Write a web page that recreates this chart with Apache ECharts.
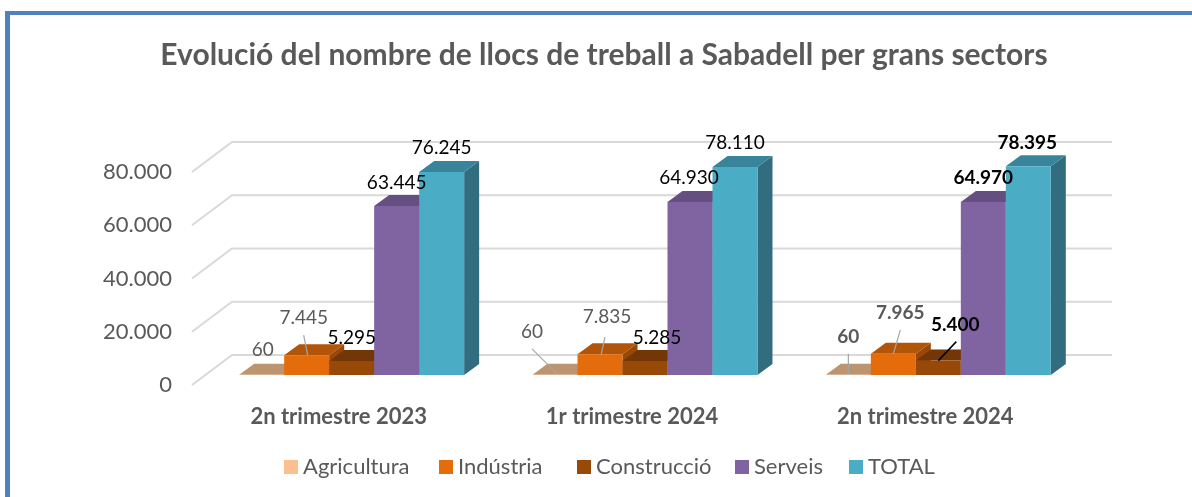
<!DOCTYPE html>
<html>
<head>
<meta charset="utf-8">
<style>
  html, body { margin: 0; padding: 0; background: #fff; }
  #main { width: 1192px; height: 497px; }
</style>
<script src="https://cdn.jsdelivr.net/npm/echarts@6/dist/echarts.min.js"></script>
</head>
<body>
<div id="main"></div>
<script>
var categories = ['2n trimestre 2023', '1r trimestre 2024', '2n trimestre 2024'];
var sectors = ['Agricultura', 'Indústria', 'Construcció', 'Serveis', 'TOTAL'];
var agricultura = [60, 60, 60];
var industria = [7445, 7835, 7965];
var construccio = [5295, 5285, 5400];
var serveis = [63445, 64930, 64970];
var total = [76245, 78110, 78395];
var yTicks = [0, 20000, 40000, 60000, 80000];

var sectorValues = [agricultura, industria, construccio, serveis, total];

// colours per sector: front, top, side
var palette = [
    ['#FAC090', '#BC9570', '#A88560'],
    ['#E46C0A', '#B35508', '#994807'],
    ['#984807', '#733606', '#5F2D05'],
    ['#8064A2', '#654F80', '#54426B'],
    ['#4BACC6', '#38859B', '#316D7E']
];

var FONT = 'Lato, "Noto Sans", sans-serif';
var GREY = '#595959';
var BLACK = '#000000';

// fake 3D: wall depth and bar depth in pixels
var WALL_DX = 40, WALL_DY = -30;
var BAR_SHIFT_X = 13, BAR_SHIFT_Y = -10;
var BAR_DX = 15, BAR_DY = -11;
var BARS_PER_BAND = 6.52;

// legend entries are not evenly spaced in the original
var legendLeft = [279, 434, 572, 730, 844];

// labels were moved by hand in the original: [sector][category]
var labelStyle = [
    [{dx: 1, dy: -25, c: GREY}, {dx: -23, dy: -43, c: GREY, line: [-23, -26, 2, -1]}, {dx: 0, dy: -38, c: GREY, b: 1, line: [0, -21, 0, 0]}],
    [{dx: -3, dy: -37, c: GREY, line: [-3, -20, 1, 0]}, {dx: 7, dy: -37, c: GREY, line: [5, -17, 1, 1]}, {dx: 7, dy: -41, c: GREY, b: 1, line: [7, -24, 0, 0]}],
    [{dx: 0, dy: -23, c: BLACK}, {dx: 12, dy: -23, c: BLACK}, {dx: 17, dy: -36, c: BLACK, b: 1, line: [18, -19, 0, 0], lc: BLACK}],
    [{dx: 0, dy: -23, c: BLACK}, {dx: -1, dy: -24, c: BLACK}, {dx: 0, dy: -24, c: BLACK, b: 1}],
    [{dx: 0, dy: -24, c: BLACK}, {dx: 0, dy: -24, c: BLACK}, {dx: -1, dy: -23, c: BLACK, b: 1}]
];

function fmt(v) {
    return String(v).replace(/\B(?=(\d{3})+$)/g, '.');
}

function barFrame(api, sectorIdx) {
    var top = api.coord([api.value(0), api.value(1)]);
    var base = api.coord([api.value(0), 0]);
    var w = api.size([1, 0])[0] / BARS_PER_BAND;
    var x0 = top[0] + BAR_SHIFT_X + (sectorIdx - 2.5) * w;
    return {x0: x0, x1: x0 + w, yTop: top[1] + BAR_SHIFT_Y, yBase: base[1] + BAR_SHIFT_Y};
}

function poly(pts, fill) {
    return {type: 'polygon', shape: {points: pts}, style: {fill: fill}};
}

function barSeries(sectorIdx) {
    return {
        name: sectors[sectorIdx],
        type: 'custom',
        coordinateSystem: 'cartesian2d',
        clip: false,
        silent: true,
        z: 3,
        itemStyle: {color: palette[sectorIdx][0]},
        encode: {x: 0, y: 1},
        data: sectorValues[sectorIdx].map(function (v, i) { return [i, v]; }),
        renderItem: function (params, api) {
            var f = barFrame(api, sectorIdx);
            var c = palette[sectorIdx];
            return {
                type: 'group',
                children: [
                    poly([[f.x1, f.yTop], [f.x1 + BAR_DX, f.yTop + BAR_DY], [f.x1 + BAR_DX, f.yBase + BAR_DY], [f.x1, f.yBase]], c[2]),
                    poly([[f.x0, f.yTop], [f.x0 + BAR_DX, f.yTop + BAR_DY], [f.x1 + BAR_DX, f.yTop + BAR_DY], [f.x1, f.yTop]], c[1]),
                    poly([[f.x0, f.yTop], [f.x1, f.yTop], [f.x1, f.yBase], [f.x0, f.yBase]], c[0])
                ]
            };
        }
    };
}

// back wall and left wall gridlines
var wallSeries = {
    name: 'grid',
    type: 'custom',
    coordinateSystem: 'cartesian2d',
    clip: false,
    silent: true,
    z: 1,
    encode: {x: 0, y: 1},
    data: yTicks.map(function (t) { return [0, t]; }),
    renderItem: function (params, api) {
        var y = api.coord([0, api.value(1)])[1];
        var left = params.coordSys.x;
        var right = left + params.coordSys.width;
        return {
            type: 'polyline',
            shape: {points: [[left, y], [left + WALL_DX, y + WALL_DY], [right + WALL_DX, y + WALL_DY]]},
            style: {stroke: '#D9D9D9', lineWidth: 2, fill: null}
        };
    }
};

// data labels on top of all bars, with leader lines
var labelData = [];
sectorValues.forEach(function (vals, s) {
    vals.forEach(function (v, i) { labelData.push([i, v, s]); });
});
var labelSeries = {
    name: 'labels',
    type: 'custom',
    coordinateSystem: 'cartesian2d',
    clip: false,
    silent: true,
    z: 10,
    encode: {x: 0, y: 1},
    data: labelData,
    renderItem: function (params, api) {
        var s = api.value(2), cat = api.value(0), v = api.value(1);
        var f = barFrame(api, s);
        var ax = (f.x0 + f.x1) / 2, ay = f.yTop;
        var st = labelStyle[s][cat];
        var children = [];
        if (st.line) {
            children.push({
                type: 'line',
                shape: {x1: ax + st.line[0], y1: ay + st.line[1], x2: ax + st.line[2], y2: ay + st.line[3]},
                style: {stroke: st.lc || '#A6A6A6', lineWidth: st.lc ? 1.5 : 1.2}
            });
        }
        children.push({
            type: 'text',
            style: {
                x: ax + st.dx,
                y: ay + st.dy,
                text: fmt(v),
                align: 'center',
                verticalAlign: 'middle',
                fill: st.c,
                font: (st.b ? 'bold ' : '') + '19px ' + FONT
            }
        });
        return {type: 'group', children: children};
    }
};

var chart = echarts.init(document.getElementById('main'));
var option = {
    animation: false,
    backgroundColor: '#ffffff',
    title: {
        text: 'Evolució del nombre de llocs de treball a Sabadell per grans sectors',
        left: 599,
        top: 35,
        textAlign: 'center',
        textStyle: {color: GREY, fontFamily: FONT, fontWeight: 'bold', fontSize: 30}
    },
    legend: sectors.map(function (name, i) {
        return {
            left: legendLeft[i],
            top: 451,
            icon: 'rect',
            itemWidth: 14,
            itemHeight: 14,
            data: [name],
            textStyle: {color: GREY, fontFamily: FONT, fontSize: 22}
        };
    }),
    grid: {left: 192, top: 172, width: 880, height: 213, containLabel: false},
    xAxis: {
        type: 'category',
        data: categories,
        axisLine: {show: false},
        axisTick: {show: false},
        axisLabel: {color: GREY, fontFamily: FONT, fontWeight: 'bold', fontSize: 22, margin: 21}
    },
    yAxis: {
        type: 'value',
        min: 0,
        max: 80000,
        interval: 20000,
        axisLine: {show: false},
        axisTick: {show: false},
        splitLine: {show: false},
        axisLabel: {color: GREY, fontFamily: FONT, fontSize: 22, margin: 20, padding: [0, 0, 8, 0], formatter: fmt}
    },
    graphic: [
        {type: 'rect', shape: {x: 5, y: 11, width: 1187, height: 4}, style: {fill: '#4F81BD'}, silent: true},
        {type: 'rect', shape: {x: 5, y: 11, width: 5, height: 486}, style: {fill: '#4F81BD'}, silent: true}
    ],
    series: [wallSeries].concat(sectors.map(function (n, i) { return barSeries(i); }), [labelSeries])
};
chart.setOption(option);
</script>
</body>
</html>
